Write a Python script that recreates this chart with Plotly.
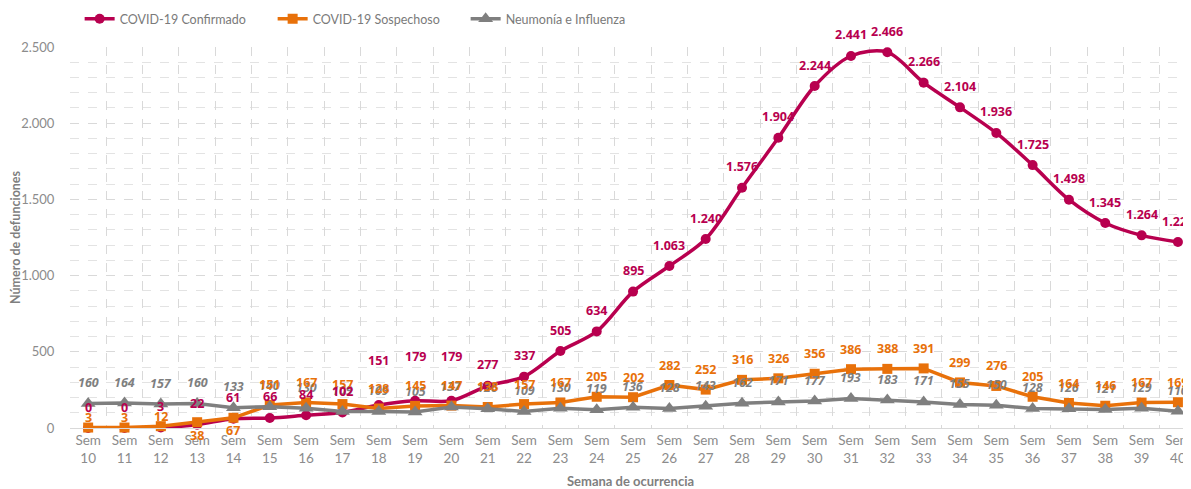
import plotly.graph_objects as go

weeks = list(range(10, 41))
week_labels = [f"Sem<br>{w}" for w in weeks]

confirmado = [0, 0, 3, 22, 61, 66, 84, 102, 151, 179, 179, 277, 337, 505, 634, 895,
              1063, 1240, 1576, 1904, 2244, 2441, 2466, 2266, 2104, 1936, 1725, 1498,
              1345, 1264, 1220]
sospechoso = [3, 3, 12, 38, 67, 151, 167, 157, 128, 145, 147, 138, 157, 167, 205, 202,
              282, 252, 316, 326, 356, 386, 388, 391, 299, 276, 205, 164, 146, 167, 169]
neumonia = [160, 164, 157, 160, 133, 140, 130, 109, 109, 105, 137, 126, 109, 130, 119, 136,
            128, 143, 162, 171, 177, 193, 183, 171, 155, 150, 128, 126, 121, 129, 110]

C_CONF = "#B8004F"
C_SOSP = "#E8710A"
C_NEUM = "#7F7F7F"


def fmt(v):
    return f"{v:,d}".replace(",", ".")


fig = go.Figure()
fig.add_trace(go.Scatter(
    x=week_labels, y=confirmado, name="COVID-19 Confirmado",
    mode="lines+markers",
    line=dict(color=C_CONF, width=3.5, shape="spline", smoothing=0.9),
    marker=dict(symbol="circle", size=10, color=C_CONF),
    cliponaxis=False,
))
fig.add_trace(go.Scatter(
    x=week_labels, y=sospechoso, name="COVID-19 Sospechoso",
    mode="lines+markers",
    line=dict(color=C_SOSP, width=3.5),
    marker=dict(symbol="square", size=10, color=C_SOSP),
    cliponaxis=False,
))
fig.add_trace(go.Scatter(
    x=week_labels, y=neumonia, name="Neumonía e Influenza",
    mode="lines+markers",
    line=dict(color=C_NEUM, width=3.5),
    marker=dict(symbol="triangle-up", size=13, color=C_NEUM),
    cliponaxis=False,
))

annotations = []
base_font = dict(family="Open Sans", size=12.5, weight="bold")
for w, lab, v in zip(weeks, week_labels, neumonia):
    annotations.append(dict(x=lab, y=v, text=f"<i>{fmt(v)}</i>", showarrow=False,
                            yshift=21, yanchor="middle",
                            font=dict(**base_font, color=C_NEUM)))
for w, lab, v in zip(weeks, week_labels, sospechoso):
    if w in (13, 14):
        ys = -13
    elif w <= 12:
        ys = 10
    else:
        ys = 20
    annotations.append(dict(x=lab, y=v, text=fmt(v), showarrow=False,
                            yshift=ys, yanchor="middle",
                            font=dict(**base_font, color=C_SOSP)))
for w, lab, v in zip(weeks, week_labels, confirmado):
    ys = 44 if 18 <= w <= 20 else 21
    annotations.append(dict(x=lab, y=v, text=fmt(v), showarrow=False,
                            yshift=ys, yanchor="middle",
                            font=dict(**base_font, color=C_CONF)))

fig.update_layout(
    width=1183, height=481,
    margin=dict(l=62, r=0, t=39, b=61, autoexpand=False),
    paper_bgcolor="white", plot_bgcolor="white",
    separators=",.",
    font=dict(family="Lato", size=12, color="#808080"),
    showlegend=True,
    legend=dict(orientation="h", x=0.0086, xanchor="left", y=1.073, yanchor="middle",
                font=dict(family="Lato", size=12.5, color="#7A7A7A"),
                entrywidth=148, entrywidthmode="pixels",
                traceorder="normal", bgcolor="rgba(0,0,0,0)"),
    annotations=annotations,
    xaxis=dict(
        type="category", range=[-0.5, 30.36], tickson="boundaries",
        showgrid=True, gridcolor="#D9D9D9", griddash="dash", gridwidth=1,
        showline=True, linecolor="#D9D9D9", linewidth=1,
        ticks="outside", ticklen=11, tickcolor="rgba(0,0,0,0)",
        tickfont=dict(family="Lato", size=13.5, color="#8C8C8C"),
        title=dict(text="<b>Semana de ocurrencia</b>", standoff=14,
                   font=dict(family="Lato", size=13, color="#7F7F7F")),
        fixedrange=True,
    ),
    yaxis=dict(
        range=[0, 2500], dtick=500, tickformat=",d",
        showgrid=True, gridcolor="#D9D9D9", griddash="dash", gridwidth=1,
        minor=dict(dtick=100, showgrid=True, gridcolor="#E3E3E3", griddash="dash", gridwidth=1),
        zeroline=False, showline=False,
        ticks="outside", ticklen=12, tickcolor="rgba(0,0,0,0)",
        tickfont=dict(family="Lato", size=13, color="#8C8C8C"),
        title=dict(text="<b>Número de defunciones</b>", standoff=8,
                   font=dict(family="Lato", size=12.5, color="#7F7F7F")),
        fixedrange=True,
    ),
)

fig.write_html("out.html")
